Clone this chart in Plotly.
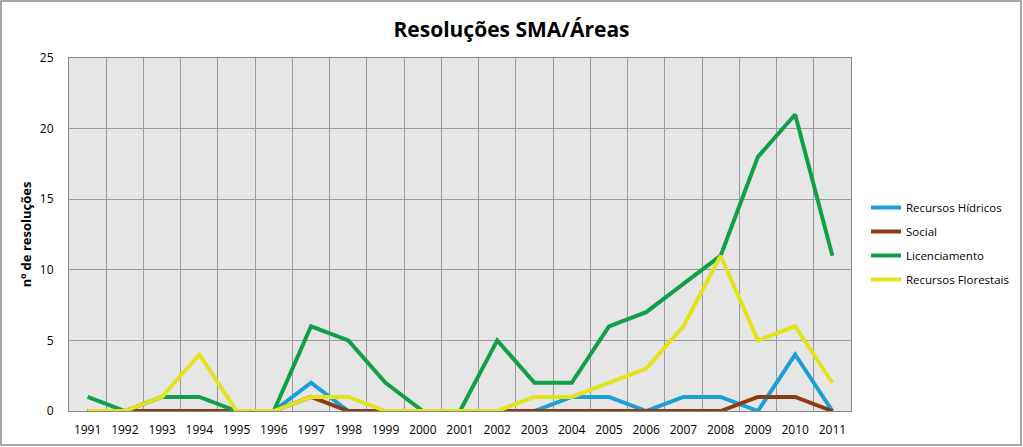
import plotly.graph_objects as go

years = list(range(1991, 2012))
recursos_hidricos = [0, 0, 0, 0, 0, 0, 2, 0, 0, 0, 0, 0, 0, 1, 1, 0, 1, 1, 0, 4, 0]
social = [0, 0, 0, 0, 0, 0, 1, 0, 0, 0, 0, 0, 0, 0, 0, 0, 0, 0, 1, 1, 0]
licenciamento = [1, 0, 1, 1, 0, 0, 6, 5, 2, 0, 0, 5, 2, 2, 6, 7, 9, 11, 18, 21, 11]
recursos_florestais = [0, 0, 1, 4, 0, 0, 1, 1, 0, 0, 0, 0, 1, 1, 2, 3, 6, 11, 5, 6, 2]

series = [
    ("Recursos Hídricos", recursos_hidricos, "#1a9fd9"),
    ("Social", social, "#8b3c12"),
    ("Licenciamento", licenciamento, "#11a04a"),
    ("Recursos Florestais", recursos_florestais, "#e3e31e"),
]

FONT = "Open Sans"

fig = go.Figure()
for i, (name, vals, color) in enumerate(series):
    fig.add_trace(go.Scatter(
        x=years, y=vals, name=name, mode="lines",
        line=dict(color=color, width=4), cliponaxis=False,
        legendgroup=str(i),
    ))

fig.update_layout(
    width=1023, height=447,
    margin=dict(l=69, r=172, t=58, b=36),
    paper_bgcolor="white",
    plot_bgcolor="#e6e6e6",
    font=dict(family=FONT, size=12, color="black"),
    title=dict(text="<b>Resoluções SMA/Áreas</b>", x=0.5, xanchor="center",
               y=1 - 30/447, yref="container", yanchor="middle",
               font=dict(family=FONT, size=21, color="black")),
    showlegend=True,
    legend=dict(x=866/1023, xref="container", y=1-193/447, yref="container",
                yanchor="top", xanchor="left", traceorder="grouped",
                tracegroupgap=5, bgcolor="rgba(0,0,0,0)",
                font=dict(family=FONT, size=11.5), itemwidth=30),
    xaxis=dict(range=[1990.5, 2011.5], tickmode="array", tickvals=years,
               ticktext=[str(y) for y in years], showgrid=False,
               showline=True, linecolor="#888888", linewidth=1, mirror=True,
               ticks="", tickfont=dict(size=12), ticklabelstandoff=8,
               automargin=False,
               minor=dict(tick0=1990.5, dtick=1, showgrid=True,
                          gridcolor="#9a9a9a", gridwidth=1, ticks="")),
    yaxis=dict(range=[0, 25], dtick=5, tick0=0, showgrid=True,
               gridcolor="#9a9a9a", gridwidth=1, zeroline=False,
               showline=True, linecolor="#888888", linewidth=1, mirror=True,
               ticks="", tickfont=dict(size=12), ticklabelstandoff=12,
               automargin=False,
               title=dict(text="<b>nº de resoluções</b>", standoff=5,
                          font=dict(family=FONT, size=13))),
    shapes=[dict(type="rect", xref="paper", yref="paper",
                 x0=-68/782, x1=(1021-69)/782, y0=-(445-411)/353, y1=(411-1)/353,
                 line=dict(color="#8a8a8a", width=1.5), layer="below")],
)

fig.write_html("out.html", config={"displayModeBar": False},
               post_script="document.body.style.margin='0';document.body.style.padding='0';")
